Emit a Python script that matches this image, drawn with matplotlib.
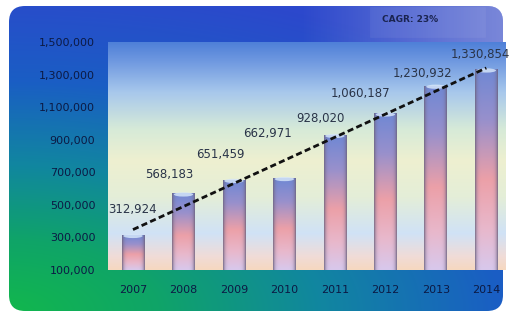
import numpy as np
import matplotlib.pyplot as plt
from matplotlib.colors import LinearSegmentedColormap, to_rgb
from matplotlib.patches import FancyBboxPatch, Rectangle, Ellipse

years = ["2007", "2008", "2009", "2010", "2011", "2012", "2013", "2014"]
values = [312924, 568183, 651459, 662971, 928020, 1060187, 1230932, 1330854]
ytick_values = [100000, 300000, 500000, 700000, 900000, 1100000, 1300000, 1500000]
cagr_text = "CAGR: 23%"

# where each value label sits relative to its bar top (pixels)
label_dx = [-1, -14, -14, -17, -14, -25, -13, -6]
label_dy = [25, 19, 25, 45, 16, 20, 12, 15]

W, H = 510, 319
fig = plt.figure(figsize=(W / 100, H / 100), dpi=100)
fig.patch.set_facecolor("white")

# rounded gradient card behind everything
bg = fig.add_axes([0, 0, 1, 1])
bg.set_xlim(0, W)
bg.set_ylim(H, 0)
bg.axis("off")
yy, xx = np.mgrid[0:H, 0:W]
u = xx / W
v = (313 - yy) / 308
t = np.sqrt(u ** 2 + (1.3 * v) ** 2) / 1.4
card_cmap = LinearSegmentedColormap.from_list(
    "card", [(0, "#12b84c"), (0.22, "#0fa468"), (0.45, "#1186a0"),
             (0.7, "#1a5ec4"), (1, "#2c48cc")])
img = bg.imshow(np.clip(t, 0, 1), cmap=card_cmap, vmin=0, vmax=1,
                extent=(0, W, H, 0), aspect="auto")
card = FancyBboxPatch((9, 6), 494, 305, boxstyle="round,pad=0,rounding_size=16",
                      facecolor="none", edgecolor="none")
bg.add_patch(card)
img.set_clip_path(card)

# lighter sheen on the right of the top band
sheen = np.zeros((H, W, 4))
sheen[..., :3] = to_rgb("#d8d4e8")
a = np.clip((xx - 300) / 200, 0, 1) * 0.45 * (yy < 42)
sheen[..., 3] = a
sh = bg.imshow(sheen, extent=(0, W, H, 0), aspect="auto")
sh.set_clip_path(card)
bg.add_patch(Rectangle((370, 7), 115, 30, facecolor="white", alpha=0.06,
                       edgecolor="#c8c8e0", lw=0.5))

# plot area
ax = fig.add_axes([107.75 / W, 49.4 / H, (505 - 107.75) / W, (277 - 49.4) / H])
x0, x1 = -0.5, 7.37
ax.set_xlim(x0, x1)
ax.set_ylim(100000, 1500000)

plot_cmap = LinearSegmentedColormap.from_list(
    "plot", [(0, "#f6d8c0"), (0.06, "#f0dcd8"), (0.16, "#d0e2f6"),
             (0.32, "#e4eed8"), (0.48, "#eef0d0"), (0.62, "#d6ead8"),
             (0.78, "#a8c8ec"), (0.92, "#6e98e0"), (1, "#4f80d8")])
grad = np.linspace(1, 0, 256).reshape(-1, 1)
ax.imshow(grad, cmap=plot_cmap, extent=(x0, x1, 100000, 1500000),
          aspect="auto", zorder=0)

bar_cmap = LinearSegmentedColormap.from_list(
    "bar", [(0, "#7088d4"), (0.25, "#9890cc"), (0.55, "#eca0a8"),
            (0.8, "#e8b8cc"), (1, "#d8c8ec")])
edge = np.array(to_rgb("#6e6480"))
bw = 0.45
for i, val in enumerate(values):
    vert = bar_cmap(np.linspace(0, 1, 120))[:, :3]
    xn = np.linspace(0, 1, 40)
    w_edge = (np.abs(2 * xn - 1) ** 6 * 0.85)[None, :, None]
    rgb = vert[:, None, :] * (1 - w_edge) + edge[None, None, :] * w_edge
    ax.imshow(rgb, extent=(i - bw / 2, i + bw / 2, 100000, val),
              aspect="auto", zorder=2)
    ax.add_patch(Ellipse((i, val - 6000), bw * 0.85, 26000,
                         facecolor="#d4e4f8", edgecolor="none", alpha=0.85, zorder=3))

# linear trend line
xs = np.arange(len(values))
p = np.polyfit(xs, values, 1)
ax.plot([xs[0], xs[-1]], np.polyval(p, [xs[0], xs[-1]]), color="#111111",
        lw=2, dashes=(2.2, 1.2), zorder=4)

for i, val in enumerate(values):
    ax.annotate(f"{val:,}", (i, val), xytext=(label_dx[i] * 0.72, label_dy[i] * 0.72),
                textcoords="offset points", ha="center", va="center",
                fontsize=8.5, color="#2a3448", zorder=5, annotation_clip=False)

ax.set_xticks(xs)
ax.set_xticklabels(years)
ax.set_yticks(ytick_values)
ax.set_yticklabels([f"{v:,}" for v in ytick_values])
ax.tick_params(length=0, labelsize=8, colors="#0c1a44")
ax.tick_params(axis="y", pad=9)
ax.tick_params(axis="x", pad=11)
for s in ax.spines.values():
    s.set_visible(False)

fig.text(410 / W, 1 - 20 / H, cagr_text, fontsize=6.5, weight="bold",
         color="#1a2450", ha="center", va="center")

fig.savefig("out.png", dpi=100)
